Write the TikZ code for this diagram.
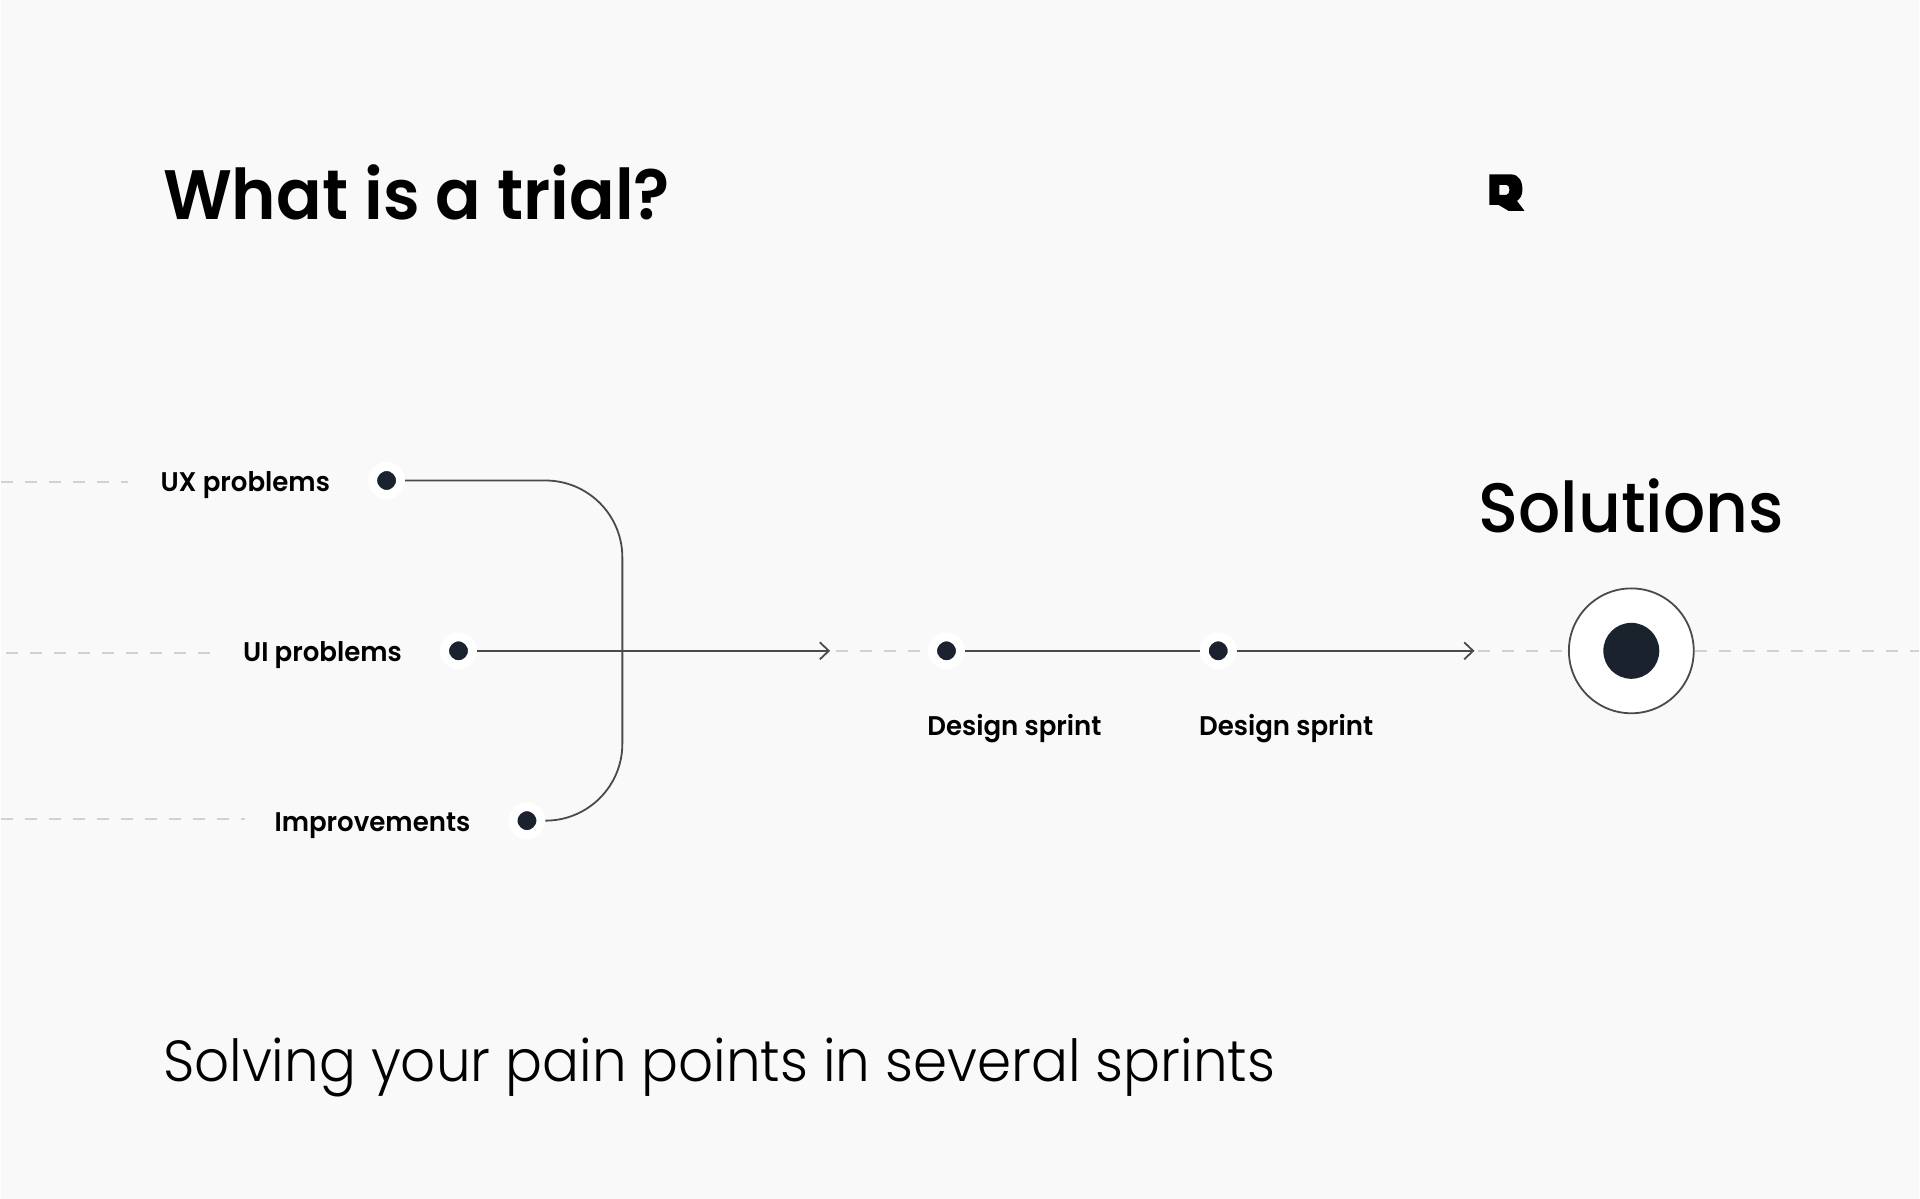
\documentclass[tikz,border=0pt]{standalone}
\usepackage{fontspec}
\usetikzlibrary{positioning,arrows.meta}
\setmainfont{Poppins}
\newfontfamily\lightfont[FakeStretch=0.945]{Poppins Light}
\newfontfamily\mediumfont[FakeStretch=0.947]{Poppins Medium}
\newfontfamily\semifont[FakeStretch=0.965]{Poppins SemiBold}
\newfontfamily\titlefont[FakeStretch=0.963]{Poppins SemiBold}
\definecolor{pagegray}{HTML}{F9F9F9}
\definecolor{inkblue}{HTML}{1A222E}
\definecolor{linegray}{HTML}{4A4A4A}
\definecolor{dashgray}{HTML}{D2D2D2}

\begin{document}
\begin{tikzpicture}[x=1pt, y=1pt,
    dotnode/.style={circle, fill=inkblue, draw=white, line width=9pt, minimum size=28pt, inner sep=0pt},
    tagnode/.style={inner sep=0pt, yshift=-4.5pt, font=\semifont\fontsize{27}{30}\selectfont},
    solid line/.style={draw=linegray, line width=1.8pt},
    dash line/.style={draw=dashgray, line width=2pt, dash pattern=on 12pt off 12pt},
    >={Straight Barb[length=9pt, width=17pt]},]
    \fill[pagegray] (0,0) rectangle (1920,-1200);
    % texts
    \node[inner sep=0pt, anchor=base west] (title)  at (162,-220)  {\titlefont\fontsize{70}{80}\selectfont What is a trial?};
    \node[inner sep=0pt, anchor=base west] (footer) at (162,-1083) {\lightfont\fontsize{58}{70}\selectfont Solving your pain points in several sprints};
    % nodes
    \node[dotnode]                          (UIdot)    at (458,-651.5)              {};
    \node[dotnode, on grid]                 (UXdot)    [above left=170.5pt and 72pt of UIdot]  {};
    \node[dotnode, on grid]                 (IMdot)    [below right=170pt and 68.5pt of UIdot] {};
    \node[dotnode, on grid]                 (sprintA)  [right=488.5pt of UIdot]     {};
    \node[dotnode, on grid]                 (sprintB)  [right=272pt of sprintA]     {};
    \node[circle, fill=white, draw=linegray, line width=1.8pt, minimum size=125pt, inner sep=0pt, on grid] (goal) [right=413.5pt of sprintB] {};
    \node[circle, fill=inkblue, minimum size=56pt, inner sep=0pt] (core) at (goal.center) {};
    % labels
    \node[tagnode]                          (UXtag)    [left=38pt of UXdot]         {UX problems};
    \node[tagnode]                          (UItag)    [left=38pt of UIdot]         {UI problems};
    \node[tagnode]                          (IMtag)    [left=38pt of IMdot]         {Improvements};
    \node[tagnode]                          (sprintAtag) [below=40.5pt of sprintA, xshift=68pt] {Design sprint};
    \node[tagnode]                          (sprintBtag) [below=40.5pt of sprintB, xshift=68pt] {Design sprint};
    \node[inner sep=0pt]                    (goaltag)  [above=54pt of goal]         {\mediumfont\fontsize{70}{80}\selectfont Solutions};
    % free ends
    \coordinate (bendtop)  at (622,-481);
    \coordinate (bendbot)  at (622,-821.5);
    \coordinate (tipA)     at (830,-651.5);
    \coordinate (tipB)     at (1475,-651.5);
    \coordinate (gapA)     at (836,-651.5);
    \coordinate (gapB)     at (1479,-651.5);
    \coordinate (UXstart)  at (0,-482);
    \coordinate (UXend)    at (127,-482);
    \coordinate (UIstart)  at (5,-654);
    \coordinate (UIend)    at (210,-654);
    \coordinate (IMstart)  at (0,-820);
    \coordinate (IMend)    at (244,-820);
    \coordinate (pageend)  at (1920,-651.5);
    % dashes
    \draw[dash line] (UXstart) -- (UXend);
    \draw[dash line] (UIstart) -- (UIend);
    \draw[dash line] (IMstart) -- (IMend);
    \draw[dash line] (gapA) -- (sprintA.west);
    \draw[dash line] (gapB) -- (goal.west);
    \draw[dash line] (goal.east) -- (pageend);
    % lines
    \draw[solid line, rounded corners=77pt] (UXdot.east) -- (bendtop) -- (bendbot) -- (IMdot.east);
    \draw[solid line, ->] (UIdot.east) -- (tipA);
    \draw[solid line] (sprintA.east) -- (sprintB.west);
    \draw[solid line, ->] (sprintB.east) -- (tipB);
    % logo
    \fill[black, even odd rule] (1490,-174.5) -- (1511,-174.5) .. controls (1520,-174.5) and (1523,-182) .. (1523,-190) .. controls (1523,-195) and (1521,-199) .. (1517.5,-201) -- (1525,-211) -- (1509,-211) -- (1499,-205) -- (1490,-205) -- cycle
      (1500,-185) -- (1507,-185) .. controls (1511,-185) and (1511,-195) .. (1507,-195) -- (1500,-195) -- cycle;
\end{tikzpicture}
\end{document}
